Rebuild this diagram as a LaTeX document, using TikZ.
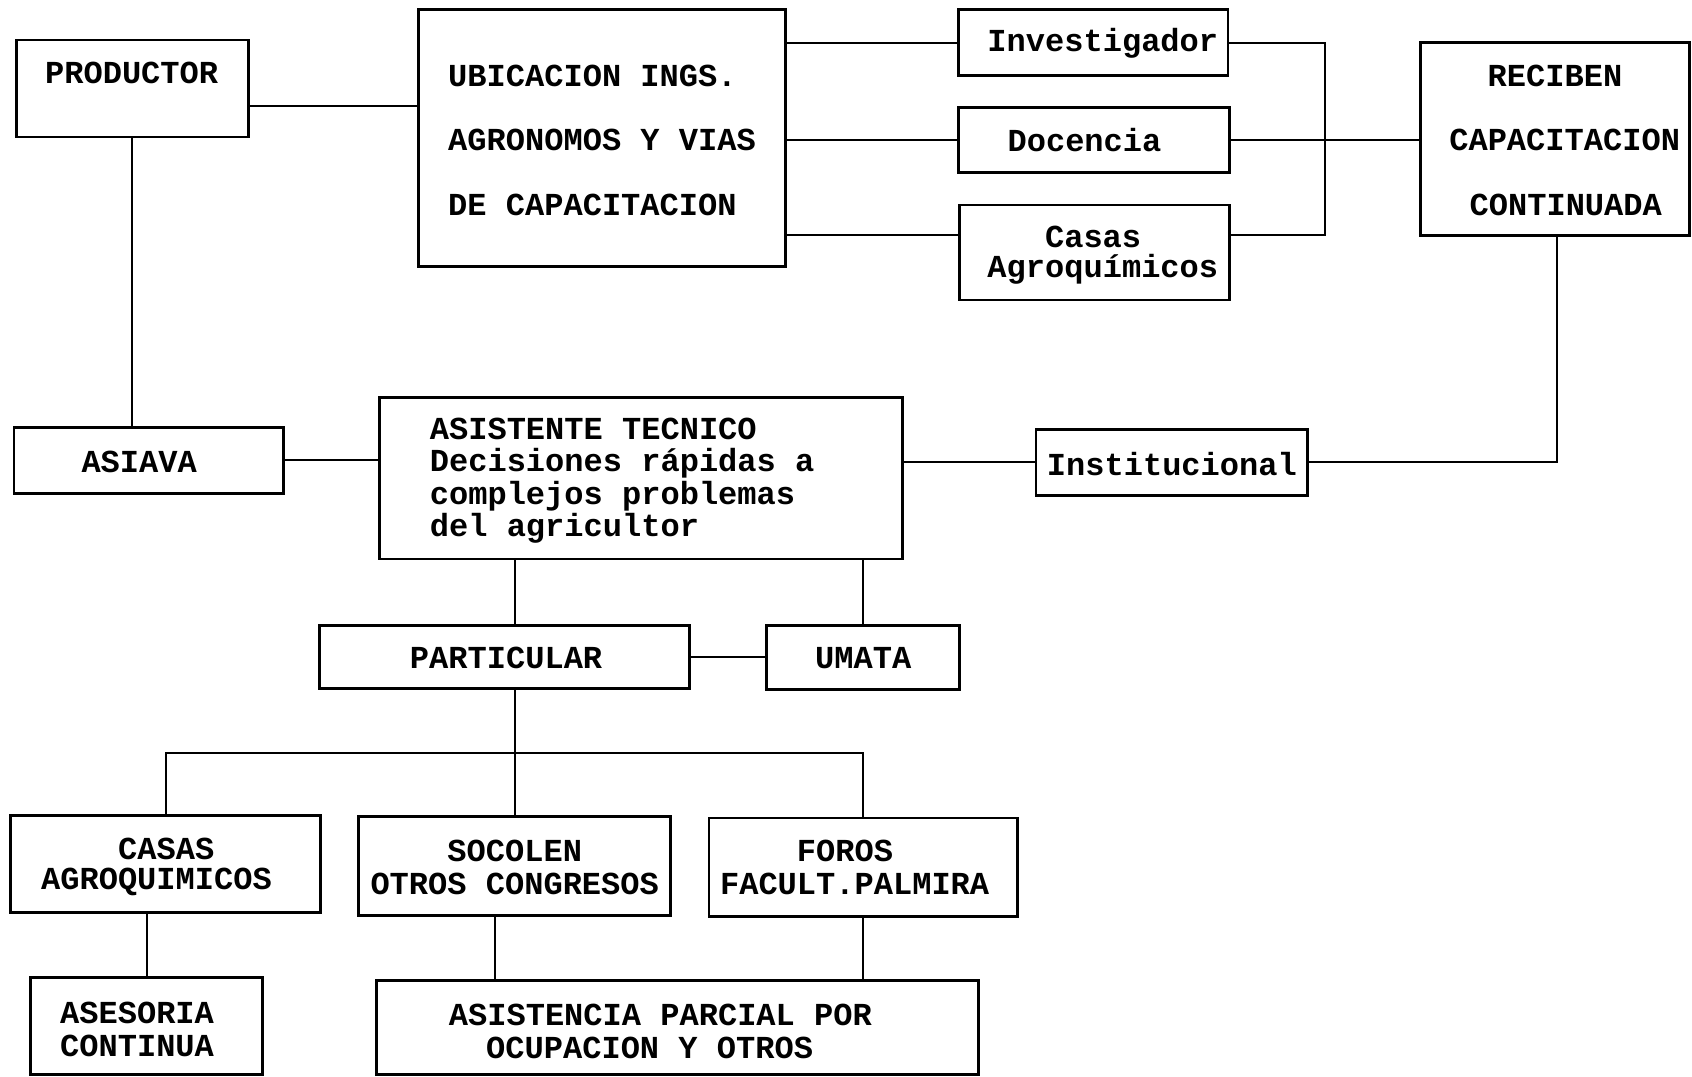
\documentclass[tikz,border=0pt]{standalone}
\usepackage{fontspec}
\setmainfont{Liberation Mono}
\usetikzlibrary{fit}
\begin{document}
\begin{tikzpicture}[x=0.02cm,y=-0.02cm,
  box/.style={draw,line width=1.5pt,inner sep=0pt},
  conn/.style={line width=1.1pt},
  txt/.style={inner sep=0pt,font=\fontsize{16.9}{17.07}\selectfont\bfseries},
  mtxt/.style={txt,align=left}]
\useasboundingbox (0,0) rectangle (1568,998);
% boxes
\node[box,fit={(15,37) (230,127)}] (prod) {};
\node[box,fit={(388,9) (728,247)}] (ubic) {};
\node[box,fit={(888,9) (1138,70)}] (inv) {};
\node[box,fit={(888,100) (1139,160)}] (doc) {};
\node[box,fit={(889,190) (1139,278)}] (casas) {};
\node[box,fit={(1316,39) (1566,218)}] (rec) {};
\node[box,fit={(13,396) (263,457)}] (asiava) {};
\node[box,fit={(352,368) (836,518)}] (asist) {};
\node[box,fit={(960,398) (1212,459)}] (inst) {};
\node[box,fit={(296,580) (639,638)}] (part) {};
\node[box,fit={(710,580) (889,639)}] (umata) {};
\node[box,fit={(10,756) (297,846)}] (cb) {};
\node[box,fit={(332,757) (621,848)}] (soc) {};
\node[box,fit={(657,758) (943,849)}] (foros) {};
\node[box,fit={(28,906) (243,996)}] (ases) {};
\node[box,fit={(349,909) (907,996)}] (asis) {};
% texts
\node[txt] (tprod) at (122,68) {PRODUCTOR};
\node[txt,anchor=west] (tu1) at (415,70) {UBICACION INGS.};
\node[txt,anchor=west] (tu2) at (415,130) {AGRONOMOS Y VIAS};
\node[txt,anchor=west] (tu3) at (415,190) {DE CAPACITACION};
\node[txt] (tinv) at (1022,40) {Investigador};
\node[txt] (tdoc) at (1005,130) {Docencia};
\node[txt] (tc1) at (1013,220) {Casas};
\node[txt] (tc2) at (1022,250) {Agroquímicos};
\node[txt] (tr1) at (1441,70) {RECIBEN};
\node[txt] (tr2) at (1450,130) {CAPACITACION};
\node[txt] (tr3) at (1451,190) {CONTINUADA};
\node[txt] (tasiava) at (129,428) {ASIAVA};
\node[mtxt,anchor=north west] (tasist) at (398,387) {ASISTENTE TECNICO\\Decisiones rápidas a\\complejos problemas\\del agricultor};
\node[txt] (tinst) at (1086,430) {Institucional};
\node[txt] (tpart) at (469,610) {PARTICULAR};
\node[txt] (tumata) at (800,610) {UMATA};
\node[txt] (tcb1) at (154,787) {CASAS};
\node[txt] (tcb2) at (145,817) {AGROQUIMICOS};
\node[txt] (ts1) at (477,789) {SOCOLEN};
\node[txt] (ts2) at (477,819) {OTROS CONGRESOS};
\node[txt] (tf1) at (783,789) {FOROS};
\node[txt] (tf2) at (792,819) {FACULT.PALMIRA};
\node[txt] (ta1) at (127,939) {ASESORIA};
\node[txt] (ta2) at (127,969) {CONTINUA};
\node[txt] (tp1) at (612,941) {ASISTENCIA PARCIAL POR};
\node[txt] (tp2) at (602,971) {OCUPACION Y OTROS};
% connectors
\coordinate (j1) at (1228,218);
\coordinate (j2) at (800,698);
\draw[conn] (prod.east |- 0,98) -- (ubic.west |- 0,98);
\draw[conn] (prod.south -| 122,0) -- (asiava.north -| 122,0);
\draw[conn] (ubic.east |- inv) -- (inv.west);
\draw[conn] (ubic.east |- doc) -- (doc.west);
\draw[conn] (ubic.east |- j1) -- (casas.west |- j1);
\draw[conn] (inv.east) -| (j1) -- (casas.east |- j1);
\draw[conn] (doc.east) -- (rec.west |- doc.east);
\draw[conn] (rec.south -| 1443,0) |- (inst.east);
\draw[conn] (asist.east |- inst) -- (inst.west);
\draw[conn] (asiava.east) -- (asist.west |- asiava.east);
\draw[conn] (asist.south -| 477,0) -- (part.north -| 477,0);
\draw[conn] (asist.south -| 800,0) -- (umata.north -| 800,0);
\draw[conn] (part.east) -- (umata.west |- part.east);
\draw[conn] (part.south -| 477,0) -- (soc.north -| 477,0);
\draw[conn] (cb.north -| 154,0) |- (j2) -- (foros.north -| j2);
\draw[conn] (cb.south -| 136,0) -- (ases.north -| 136,0);
\draw[conn] (soc.south -| 459,0) -- (asis.north -| 459,0);
\draw[conn] (foros.south -| j2) -- (asis.north -| j2);
\end{tikzpicture}
\end{document}
